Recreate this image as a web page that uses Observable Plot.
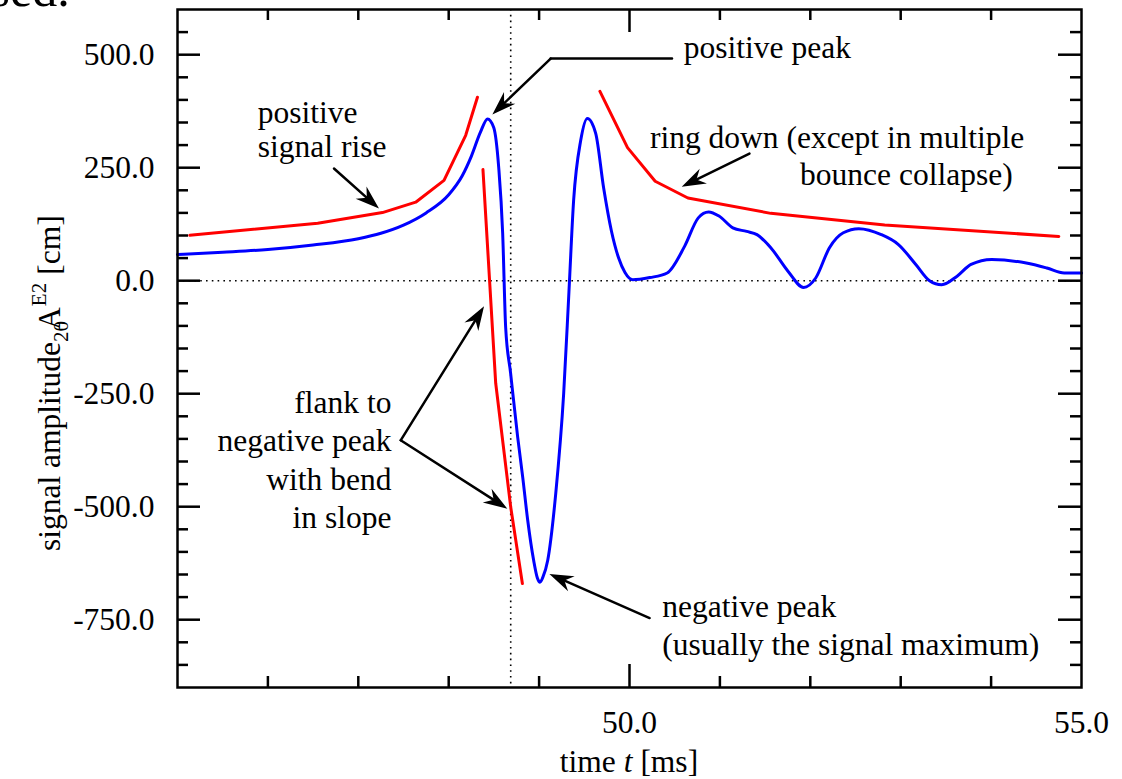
<!DOCTYPE html>
<html><head><meta charset="utf-8">
<script src="https://cdn.jsdelivr.net/npm/d3@7"></script>
<script src="https://cdn.jsdelivr.net/npm/@observablehq/plot@0.6"></script>
<style>html,body{margin:0;padding:0;background:#fff;overflow:hidden}</style>
</head><body><div id="chart"></div>
<script>
// ---- signal (blue) ----
const signalT = [45.0,45.5,46.0,46.5,47.0,47.25,47.5,47.75,48.0,48.15,48.25,48.35,48.43,48.498,48.553,48.597,48.63,48.685,48.763,48.819,48.874,48.94,48.98,49.01,49.04,49.095,49.184,49.272,49.33,49.382,49.46,49.534,49.626,49.714,49.8,49.88,49.95,50.036,50.226,50.417,50.609,50.761,50.875,50.99,51.143,51.296,51.41,51.563,51.753,51.926,52.06,52.212,52.365,52.536,52.785,52.975,53.167,53.319,53.453,53.624,53.778,54.007,54.389,54.617,54.809,55.0];
const signalV = [58,63,69,79,93,105,123,150,190,232,275,328,358,339,251,105,-103,-205,-346,-435,-530,-619,-657,-667,-657,-619,-471,-249,-25,178,310,359,326,205,110,50,18,2,7,17,76,139,152,143,117,109,102,73,21,-15,6,73,106,115,102,80,36,0,-9,10,36,47,39,28,17,17];
// ---- envelope guides (red), three separate segments ----
const riseT = [45.136,46.551,47.267,47.635,47.948,48.188,48.318];
const riseV = [100.5,127,150.7,173.7,222,321.7,405.8];
const flankT = [48.379,48.52,48.686,48.815];
const flankV = [245.8,-227,-500.8,-670];
const ringT = [49.673,49.978,50.284,50.646,51.563,52.823,54.749];
const ringV = [419,294.5,220,183,149,123,98];
// ---- reference lines ----
const bounceT = [48.686];
const zeroV = [0];
// ---- ticks ----
const xLabelTicks = [50, 55];
const xMajorTicks = [50];
const xMinorTicks = [46,47,48,49,51,52,53,54];
const yMajorTicks = [-750,-500,-250,0,250,500];
const yMinorTicks = [-850,-800,-700,-650,-600,-550,-450,-400,-350,-300,-200,-150,-100,-50,50,100,150,200,300,350,400,450,550];
// ---- annotations ----
const noteText = ["positive\nsignal rise","positive peak","ring down (except in multiple","bounce collapse)","flank to\nnegative peak\nwith bend\nin slope","negative peak\n(usually the signal maximum)"];
const noteT = [45.888,50.601,50.226,51.887,47.367,50.362];
const noteV = [273.7,492.8,294.5,210.9,-547.3,-828.9];
const noteAnchor = ["start","start","start","start","end","start"];
const noteLineHeight = [1.08,1.2,1.2,1.2,1.216,1.206];
const arrowT1 = [46.731,49.128,51.327,47.469,47.469,50.223];
const arrowV1 = [248.1,491.5,281.3,-353.1,-353.1,-746.4];
const arrowT2 = [47.229,48.483,50.578,48.391,48.649,49.114];
const arrowV2 = [159.5,367.5,208.0,-56.7,-504.3,-649];
const leaderT = [50.47,49.128];
const leaderV = [491.5,491.5];

const W = 1122, H = 779, mt = 9, mb = 92, ml = 177, mr = 41;
const ph = H - mt - mb, pw = W - ml - mr;
const major = 23, minor = 11, tw = 2.5;
const fmt = d => d.toFixed(1);
const kx = pw / 10, ky = ph / 1500; // px per data unit, used only for arrowhead orientation

const signal = signalT.map((t,i)=>({t, v: signalV[i]}));
const guides = [
  ...riseT.map((t,i)=>({t, v: riseV[i], seg:"rise"})),
  ...flankT.map((t,i)=>({t, v: flankV[i], seg:"flank"})),
  ...ringT.map((t,i)=>({t, v: ringV[i], seg:"ring"}))
];
const notes = noteText.map((text,i)=>({text, t: noteT[i], v: noteV[i], anchor: noteAnchor[i], lh: noteLineHeight[i]}));
const arrows = arrowT1.map((t1,i)=>{
  const t2 = arrowT2[i], v1 = arrowV1[i], v2 = arrowV2[i];
  const dx = (t2 - t1) * kx, dy = -(v2 - v1) * ky;
  return {t1, v1, t2, v2, angle: Math.atan2(dx, -dy) * 180 / Math.PI};
});
const leader = leaderT.map((t,i)=>({t, v: leaderV[i]}));

// filled, notched arrowhead pointing up with its tip at the origin
const stealth = {
  draw(ctx, size) {
    const L = Math.sqrt(size / Math.PI), w = L * 0.34;
    ctx.moveTo(0, 0);
    ctx.lineTo(w, L);
    ctx.lineTo(0, L * 0.68);
    ctx.lineTo(-w, L);
    ctx.closePath();
  }
};

const plot = Plot.plot({
  width: W, height: H,
  marginTop: mt, marginBottom: mb, marginLeft: ml, marginRight: mr,
  style: {fontFamily: "'Liberation Serif', 'Times New Roman', serif", fontSize: "31.5px", background: "white", color: "black"},
  x: {domain: [45, 55], axis: null},
  y: {domain: [-900, 600], axis: null},
  marks: [
    Plot.ruleY(zeroV, {y: d=>d, stroke: "black", strokeWidth: 1.6, strokeDasharray: "1.6,4.2"}),
    Plot.ruleX(bounceT, {x: d=>d, stroke: "black", strokeWidth: 1.6, strokeDasharray: "1.6,4.2"}),
    Plot.line(guides, {x: "t", y: "v", z: "seg", stroke: "#ff0000", strokeWidth: 3}),
    Plot.line(signal, {x: "t", y: "v", stroke: "#0000ff", strokeWidth: 3, curve: "monotone-x"}),
    Plot.line(leader, {x: "t", y: "v", stroke: "black", strokeWidth: 2.5}),
    Plot.arrow(arrows, {x1: "t1", y1: "v1", x2: "t2", y2: "v2", stroke: "black", strokeWidth: 2.5, headLength: 0, insetEnd: 6}),
    Plot.dot(arrows, {x: "t2", y: "v2", symbol: stealth, r: 24, rotate: "angle", fill: "black", stroke: "none"}),
    ...notes.map(n => Plot.text([n], {x: "t", y: "v", text: "text", textAnchor: n.anchor, lineAnchor: "bottom", lineHeight: n.lh, fill: "black"})),
    // bottom ticks
    Plot.tickX(xMinorTicks, {x: d=>d, insetTop: ph - minor, stroke: "black", strokeWidth: tw}),
    Plot.tickX(xMajorTicks, {x: d=>d, insetTop: ph - major, stroke: "black", strokeWidth: tw}),
    // top ticks
    Plot.tickX(xMinorTicks, {x: d=>d, insetBottom: ph - minor, stroke: "black", strokeWidth: tw}),
    Plot.tickX(xMajorTicks, {x: d=>d, insetBottom: ph - major, stroke: "black", strokeWidth: tw}),
    // left ticks
    Plot.tickY(yMinorTicks, {y: d=>d, insetRight: pw - minor, stroke: "black", strokeWidth: tw}),
    Plot.tickY(yMajorTicks, {y: d=>d, insetRight: pw - major, stroke: "black", strokeWidth: tw}),
    // right ticks
    Plot.tickY(yMinorTicks, {y: d=>d, insetLeft: pw - minor, stroke: "black", strokeWidth: tw}),
    Plot.tickY(yMajorTicks, {y: d=>d, insetLeft: pw - major, stroke: "black", strokeWidth: tw}),
    Plot.axisX(xLabelTicks, {tickSize: 0, tickPadding: 23, tickFormat: fmt, label: null, fill: "black"}),
    Plot.axisY(yMajorTicks, {tickSize: 0, tickPadding: 23, tickFormat: fmt, label: null, fill: "black"}),
    Plot.frame({stroke: "black", strokeWidth: 2.5})
  ]
});

const svg = d3.select(plot);
// axis titles
const xl = svg.append("text").attr("x", (ml + W - mr) / 2).attr("y", 772)
  .attr("text-anchor", "middle").attr("fill", "black").attr("font-size", 31.5);
xl.append("tspan").text("time ");
xl.append("tspan").attr("font-style", "italic").text("t");
xl.append("tspan").text(" [ms]");

const yl = svg.append("text").attr("transform", "translate(60,551) rotate(-90)")
  .attr("text-anchor", "start").attr("fill", "black").attr("font-size", 31.5);
yl.append("tspan").text("signal amplitude");
yl.append("tspan").attr("font-size", 21).attr("dy", 8).text("20");
yl.append("tspan").attr("dx", -9).attr("dy", -8).text("A");
yl.append("tspan").attr("font-size", 21).attr("dy", -14).attr("dx", 1).text("E2");
yl.append("tspan").attr("dy", 14).attr("dx", 8).text("[cm]");

// fragment of surrounding document text at the very top-left
svg.append("text").attr("x", -9.5).attr("y", 6).attr("text-anchor", "start")
  .attr("fill", "black").attr("font-size", 50).text("sed.");

document.getElementById("chart").appendChild(plot);
</script>
</body></html>
